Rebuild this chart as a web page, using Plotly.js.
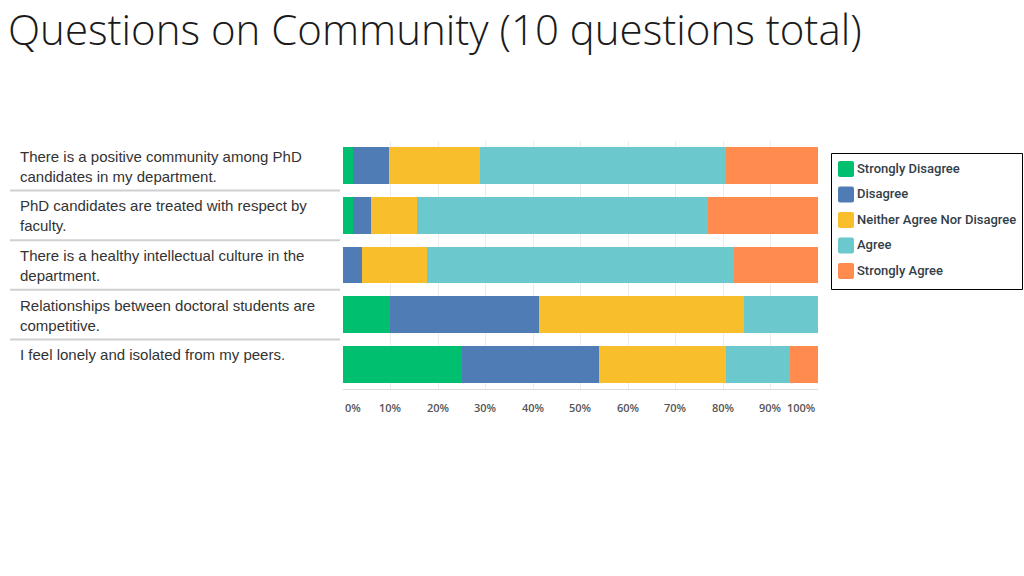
<!DOCTYPE html>
<html>
<head>
<meta charset="utf-8">
<script src="https://cdn.plot.ly/plotly-3.0.1.min.js"></script>
<style>html,body{margin:0;padding:0;background:#fff;}#chart{width:1024px;height:576px;}</style>
</head>
<body>
<div id="chart"></div>
<script>
var questions = [
  "There is a positive community among PhD<br>candidates in my department.",
  "PhD candidates are treated with respect by<br>faculty.",
  "There is a healthy intellectual culture in the<br>department.",
  "Relationships between doctoral students are<br>competitive.",
  "I feel lonely and isolated from my peers."
];
var responseNames = ["Strongly Disagree", "Disagree", "Neither Agree Nor Disagree", "Agree", "Strongly Agree"];
var stronglyDisagree = [2.2, 2.2, 0, 9.9, 25.0];
var disagree         = [7.5, 3.6, 4.0, 31.4, 28.8];
var neither          = [19.1, 9.7, 13.7, 43.1, 26.8];
var agree            = [51.8, 61.3, 64.6, 15.6, 13.5];
var stronglyAgree    = [19.4, 23.2, 17.7, 0, 5.9];
var tickValues = [0, 10, 20, 30, 40, 50, 60, 70, 80, 90, 100];
var tickLabels = ["0%", "10%", "20%", "30%", "40%", "50%", "60%", "70%", "80%", "90%", "100%"];
var colors = ["#00BF6F", "#507CB6", "#F9BE2C", "#6BC8CD", "#FF8B4F"];

var series = [stronglyDisagree, disagree, neither, agree, stronglyAgree];
var cats = questions.map(function(q, i){ return "q" + i; });

var traces = series.map(function(vals, k){
  return {
    type: "bar",
    orientation: "h",
    name: responseNames[k],
    x: vals,
    y: cats,
    showlegend: false,
    marker: {color: colors[k], line: {width: 0}},
    hoverinfo: "none"
  };
});

// plot-area geometry (pixels) used to place the legend box
var M = {l: 343, r: 206, t: 141, b: 187};
var PW = 1024 - M.l - M.r, PH = 576 - M.t - M.b;
function px(x){ return (x - M.l) / PW; }
function py(y){ return 1 - (y - M.t) / PH; }

var annotations = [];
questions.forEach(function(q, i){
  annotations.push({
    xref: "paper", yref: "y", x: px(18), y: cats[i],
    xanchor: "left", yanchor: "top", yshift: 20, align: "left",
    text: q, showarrow: false,
    font: {family: "Liberation Sans, Arial, sans-serif", size: 15, color: "#333333"}
  });
});
tickValues.forEach(function(v, i){
  var anchor = i === 0 ? "left" : (i === tickValues.length - 1 ? "right" : "center");
  annotations.push({
    xref: "x", yref: "paper", x: v, y: py(407),
    xanchor: anchor, yanchor: "middle",
    text: tickLabels[i], showarrow: false,
    font: {family: "Open Sans, sans-serif", size: 11, color: "#555555", weight: 600}
  });
});

var shapes = [];
for (var i = 0; i < questions.length - 1; i++) {
  shapes.push({
    type: "line", xref: "paper", yref: "y",
    x0: px(10), x1: px(340), y0: i + 0.5, y1: i + 0.5,
    line: {color: "#d0d0d0", width: 2}
  });
}

// legend box
shapes.push({
  type: "rect", xref: "paper", yref: "paper",
  x0: px(831.5), x1: px(1022.5), y0: py(153.5), y1: py(289.5),
  line: {color: "#000000", width: 1}, fillcolor: "rgba(0,0,0,0)"
});
var roundSq = "M-8,-6 Q-8,-8 -6,-8 L6,-8 Q8,-8 8,-6 L8,6 Q8,8 6,8 L-6,8 Q-8,8 -8,6 Z";
responseNames.forEach(function(name, k){
  var cy = 169 + k * 25.5;
  shapes.push({
    type: "path", xref: "paper", yref: "paper",
    xsizemode: "pixel", ysizemode: "pixel",
    xanchor: px(846), yanchor: py(cy),
    path: roundSq, fillcolor: colors[k], line: {width: 0}
  });
  annotations.push({
    xref: "paper", yref: "paper", x: px(855), y: py(cy - 1),
    xanchor: "left", yanchor: "middle", showarrow: false,
    text: name,
    font: {family: "Roboto, sans-serif", size: 13, color: "#333e48", weight: 500}
  });
});

var layout = {
  width: 1024, height: 576,
  paper_bgcolor: "#ffffff", plot_bgcolor: "#ffffff",
  margin: {l: M.l, r: M.r, t: M.t, b: M.b, pad: 0, autoexpand: false},
  barmode: "stack",
  bargap: 0.256,
  showlegend: false,
  title: {
    text: "Questions on Community (10 questions total)",
    xref: "container", yref: "container", x: 8/1024, y: 1 - 30/576,
    xanchor: "left", yanchor: "middle",
    font: {family: "Open Sans, sans-serif", size: 42, color: "#1a1a1a", weight: 300}
  },
  xaxis: {
    range: [0, 100], tickvals: tickValues, showticklabels: false,
    showgrid: true, gridcolor: "#ececec", gridwidth: 1,
    zeroline: false, showline: true, linecolor: "#dddddd", linewidth: 1,
    ticks: "", fixedrange: true
  },
  yaxis: {
    autorange: "reversed", showticklabels: false, showgrid: false,
    zeroline: false, showline: false, ticks: "", fixedrange: true
  },
  annotations: annotations,
  shapes: shapes
};

Plotly.newPlot("chart", traces, layout, {displayModeBar: false, staticPlot: true});
</script>
</body>
</html>
